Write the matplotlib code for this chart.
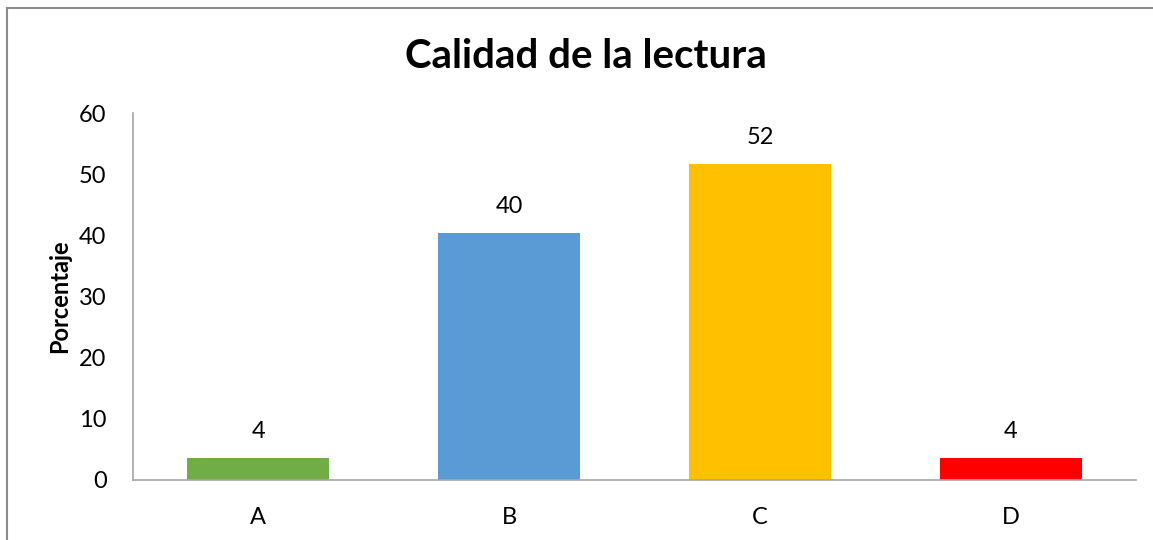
import matplotlib
matplotlib.use("Agg")
from matplotlib import pyplot as plt
from matplotlib.patches import Rectangle

categories = ["A", "B", "C", "D"]
values = [3.6, 40.3, 51.6, 3.6]
colors = ["#70ad47", "#5b9bd5", "#ffc000", "#ff0000"]
yticks = [0, 10, 20, 30, 40, 50, 60]

plt.rcParams["font.family"] = ["Lato", "DejaVu Sans"]

W, H = 1153, 540
fig = plt.figure(figsize=(W / 100, H / 100), dpi=100)
ax = fig.add_axes([133 / W, 1 - 479.5 / H, (1136 - 133) / W, (479.5 - 113) / H])

x = range(len(categories))
bars = ax.bar(x, values, width=0.566, color=colors)
for b, v in zip(bars, values):
    ax.text(b.get_x() + b.get_width() / 2, v + 2.6, "%.0f" % v,
            ha="center", va="bottom", fontsize=17)

ax.set_xlim(-0.5, len(categories) - 0.5)
ax.set_ylim(0, 60)
ax.set_xticks(list(x))
ax.set_xticklabels(categories, fontsize=17)
ax.set_yticks(yticks)
ax.tick_params(axis="both", length=0, labelsize=17)
ax.tick_params(axis="y", pad=19)
ax.tick_params(axis="x", pad=20)
for s in ["top", "right"]:
    ax.spines[s].set_visible(False)
for s in ["left", "bottom"]:
    ax.spines[s].set_color("#a6a6a6")
    ax.spines[s].set_linewidth(1.2)

ax.set_ylabel("Porcentaje", fontsize=17, fontweight="bold", labelpad=6)
fig.text(586 / W, 1 - 57 / H, "Calidad de la lectura", ha="center", va="center",
         fontsize=29, fontweight="bold")

fig.patches.append(Rectangle((7 / W, -0.1), 1.2, 1 - 8 / H + 0.1, transform=fig.transFigure,
                             fill=False, edgecolor="#8c8c8c", linewidth=1.5))

fig.savefig("out.png", dpi=100)
